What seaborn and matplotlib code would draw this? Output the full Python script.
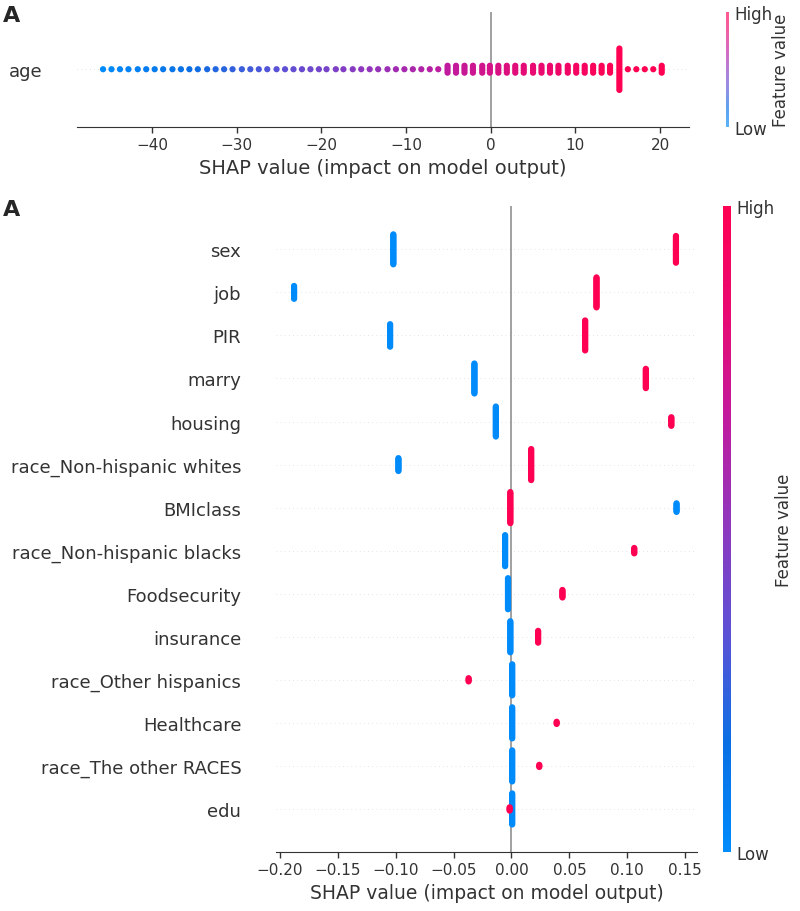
import matplotlib
matplotlib.use("Agg")
import matplotlib.pyplot as plt
from matplotlib.colors import LinearSegmentedColormap, Normalize
from matplotlib.cm import ScalarMappable
import numpy as np
import pandas as pd
import seaborn as sns

# ---- panel 1: age (one feature, many distinct values) ----
age_shap = [-45.8, -44.8, -43.8, -42.8, -41.7, -40.7, -39.7, -38.7, -37.6, -36.6,
            -35.6, -34.6, -33.5, -32.5, -31.5, -30.5, -29.4, -28.4, -27.4, -26.4,
            -25.3, -24.3, -23.3, -22.3, -21.3, -20.3, -19.4, -18.3, -17.4, -16.3,
            -15.3, -14.3, -13.3, -12.2, -11.2, -10.2, -9.2, -8.2, -7.2, -6.2,
            -5.1, -4.1, -3.1, -2.1, -1.0, -0.1, 0.9, 1.9, 2.9, 3.9,
            5.0, 6.0, 7.0, 8.0, 9.1, 10.1, 11.1, 12.1, 13.1, 14.1,
            15.2, 16.2, 17.2, 18.2, 19.2, 20.2]
age_value = [20, 21, 22, 23, 24, 25, 26, 27, 28, 29,
             30, 31, 32, 33, 34, 35, 36, 37, 38, 39,
             40, 41, 42, 43, 44, 45, 46, 47, 48, 49,
             50, 51, 52, 53, 54, 55, 56, 57, 58, 59,
             60, 61, 62, 63, 64, 65, 66, 67, 68, 69,
             70, 71, 72, 73, 74, 75, 76, 77, 78, 79,
             80, 80, 80, 80, 80, 80]
age_count = [1, 1, 1, 1, 1, 1, 1, 1, 1, 1,
             1, 1, 1, 1, 1, 1, 1, 1, 1, 1,
             1, 1, 1, 1, 1, 1, 1, 1, 1, 1,
             1, 1, 1, 1, 1, 1, 1, 1, 1, 1,
             4, 4, 4, 4, 4, 4, 4, 4, 4, 4,
             4, 4, 4, 4, 4, 4, 4, 4, 4, 4,
             19, 1, 1, 1, 1, 4]

# ---- panel 2: binary features ----
features = ["sex", "job", "PIR", "marry", "housing", "race_Non-hispanic whites",
            "BMIclass", "race_Non-hispanic blacks", "Foodsecurity", "insurance",
            "race_Other hispanics", "Healthcare", "race_The other RACES", "edu"]
shap_low = [-0.102, -0.1877, -0.1048, -0.032, -0.0135, -0.0976,
            0.1425, -0.0055, -0.003, -0.001, 0.0006, 0.0006, 0.0006, 0.0006]
shap_high = [0.142, 0.0734, 0.0636, 0.116, 0.138, 0.017,
             -0.001, 0.106, 0.044, 0.023, -0.037, 0.039, 0.024, -0.0016]
count_low = [29, 13, 22, 29, 29, 13, 9, 30, 30, 30, 30, 30, 30, 30]
count_high = [26, 29, 29, 19, 9, 30, 30, 6, 8, 12, 4, 3, 3, 4]

# shap-like red/blue colormap
red_blue = LinearSegmentedColormap.from_list(
    "red_blue",
    ["#008bfb", "#0a6fe4", "#5a52d6", "#8c38bf", "#c01b9e", "#e80a72", "#ff0052"])

text_color = "#333333"


def spread(center, n, step):
    # stack n identical points around the row centre
    return center + (np.arange(n) - (n - 1) / 2) * step


def style_axis(ax, xlabel_size):
    for side in ["top", "right", "left"]:
        ax.spines[side].set_visible(False)
    ax.spines["bottom"].set_color(text_color)
    ax.tick_params(axis="x", bottom=True, colors=text_color, labelsize=11,
                   length=4, width=1)
    ax.tick_params(axis="y", left=False, length=0, labelsize=13, pad=25,
                   colors=text_color)
    ax.set_xlabel("SHAP value (impact on model output)", fontsize=xlabel_size,
                  color=text_color)
    ax.set_ylabel("")
    ax.axvline(0, color="#999999", lw=1.3, zorder=-1)


def add_colorbar(fig, rect, alpha=1.0):
    cax = fig.add_axes(rect)
    sm = ScalarMappable(norm=Normalize(0, 1), cmap=red_blue)
    cb = fig.colorbar(sm, cax=cax, ticks=[0, 1])
    cb.solids.set_alpha(alpha)
    cb.set_ticklabels(["Low", "High"])
    cb.ax.tick_params(length=0, labelsize=12, colors=text_color, pad=4)
    cb.outline.set_visible(False)
    cb.set_label("Feature value", size=12, labelpad=0, color=text_color)
    return cb


sns.set_style("white")
plt.rcParams["font.family"] = ["DejaVu Sans"]

fig = plt.figure(figsize=(8, 9.12), dpi=100)

# ---------- top panel ----------
rows = []
age_step = 0.72 / (max(age_count) - 1)
for x, v, n in zip(age_shap, age_value, age_count):
    for y in spread(0, n, age_step):
        rows.append({"shap": x, "ypos": y, "fval": v})
df_age = pd.DataFrame(rows)

ax1 = fig.add_axes([0.096, 0.860, 0.765, 0.126])
ax1.axhline(0, color="#cccccc", lw=0.5, dashes=(1, 5), zorder=-1)
sns.scatterplot(data=df_age, x="shap", y="ypos", hue="fval", palette=red_blue,
                hue_norm=(20, 80), s=20, linewidth=0, legend=False, ax=ax1)
ax1.set_xlim(-48.9, 23.4)
ax1.set_ylim(-1, 1)
ax1.set_xticks([-40, -30, -20, -10, 0, 10, 20])
ax1.set_xticklabels(["\u221240", "\u221230", "\u221220", "\u221210", "0", "10", "20"])
ax1.set_yticks([0])
ax1.set_yticklabels(["age"])
style_axis(ax1, 14)
add_colorbar(fig, [0.908, 0.860, 0.0028, 0.126], alpha=0.65)

# ---------- bottom panel ----------
rows = []
nf = len(features)
step = 0.72 / (max(count_low + count_high) - 1)
for i, name in enumerate(features):
    yc = nf - 1 - i
    for y in spread(yc, count_low[i], step):
        rows.append({"feature": name, "shap": shap_low[i], "ypos": y, "fval": 0.0})
    for y in spread(yc, count_high[i], step):
        rows.append({"feature": name, "shap": shap_high[i], "ypos": y, "fval": 1.0})
df_bin = pd.DataFrame(rows)

ax2 = fig.add_axes([0.345, 0.0647, 0.526, 0.708])
for i in range(nf):
    ax2.axhline(i, color="#cccccc", lw=0.5, dashes=(1, 5), zorder=-1)
sns.scatterplot(data=df_bin, x="shap", y="ypos", hue="fval", palette=red_blue,
                hue_norm=(0, 1), s=20, linewidth=0, legend=False, ax=ax2)
ax2.set_xlim(-0.2033, 0.160)
ax2.set_ylim(-1, nf)
ax2.set_xticks([-0.20, -0.15, -0.10, -0.05, 0.00, 0.05, 0.10, 0.15])
ax2.set_xticklabels(["\u22120.20", "\u22120.15", "\u22120.10", "\u22120.05",
                     "0.00", "0.05", "0.10", "0.15"])
ax2.set_yticks(list(range(nf)))
ax2.set_yticklabels(features[::-1])
style_axis(ax2, 13.5)
add_colorbar(fig, [0.9035, 0.0647, 0.0105, 0.708])

# panel letters
fig.text(0.003, 0.993, "A", fontsize=16, fontweight="bold", va="top")
fig.text(0.003, 0.781, "A", fontsize=16, fontweight="bold", va="top")

fig.savefig("out.png", dpi=100)
